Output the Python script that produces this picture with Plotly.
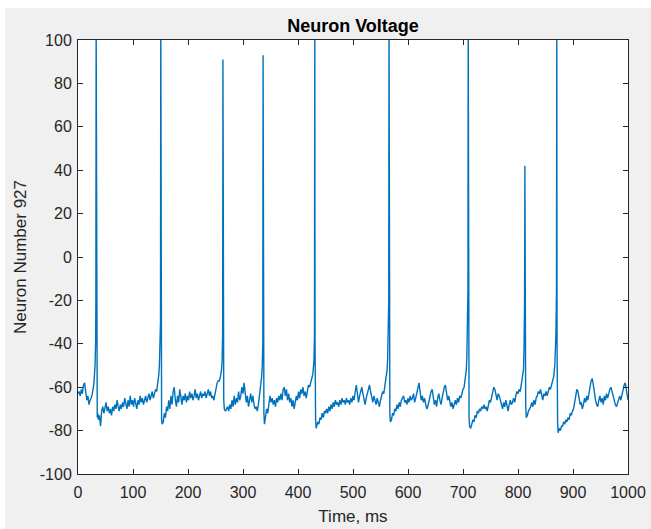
import plotly.graph_objects as go

# ---- data (time in ms, membrane voltage in mV) ----
t_seg0 = [0, 2, 4, 6, 8, 10, 12, 14, 16, 18, 20, 22, 24, 26, 27, 28, 29, 30, 31, 32, 32.5, 33, 33.5, 34, 35, 36]
v_seg0 = [-63, -62, -64, -61, -63, -59, -58, -61, -66, -64, -68, -66, -65, -63, -62, -60, -58, -55, -50, -40, -20, 110, -30, -70, -74, -72]

t_seg1 = [37, 39, 41, 43, 45, 47, 49, 51, 53, 55, 57, 59, 61, 63, 65, 67, 69, 71, 73, 75, 77, 79, 81, 83, 85, 87, 89,
          91, 93, 95, 97, 99, 101, 103, 105, 107, 109, 111, 113, 115, 117, 119, 121, 123, 125, 127, 129, 131, 133,
          135, 137, 139, 141, 143, 145, 146, 147, 148, 149, 150, 150.5, 151, 152]
v_seg1 = [-75, -73, -78, -71, -69, -72, -70, -67, -71, -69, -72, -70, -73, -69, -71, -68, -70, -66, -69, -71, -68, -70,
          -67, -69, -65, -68, -70, -66, -69, -64, -68, -66, -69, -65, -67, -70, -66, -68, -64, -67, -65, -68, -66, -64,
          -67, -65, -63, -66, -64, -62, -65, -63, -61, -62, -59, -57, -54, -50, -44, -30, 110, -40, -75]

t_seg2 = [153, 155, 157, 159, 161, 163, 165, 167, 169, 171, 173, 175, 177, 179, 181, 183, 185, 187, 189, 191, 193, 195,
          197, 199, 201, 203, 205, 207, 209, 211, 213, 215, 217, 219, 221, 223, 225, 227, 229, 231, 233, 235, 237, 239,
          241, 243, 245, 247, 249, 251, 253, 255, 257, 259, 261, 262, 263, 263.5, 264, 265]
v_seg2 = [-77, -76, -72, -74, -69, -71, -66, -70, -64, -68, -62, -60, -66, -69, -64, -67, -61, -65, -68, -64, -66, -63,
          -67, -64, -66, -62, -65, -63, -66, -64, -61, -65, -63, -66, -64, -62, -65, -63, -64, -62, -65, -63, -61, -64,
          -62, -65, -64, -66, -63, -60, -58, -57, -57, -55, -52, -48, -35, 91, -40, -66]

t_seg3 = [266, 268, 270, 272, 274, 276, 278, 280, 282, 284, 286, 288, 290, 292, 294, 296, 298, 300, 302, 304, 306, 308,
          310, 312, 314, 316, 318, 320, 322, 324, 326, 328, 330, 332, 334, 335, 336, 336.5, 337, 338]
v_seg3 = [-70, -71, -70, -69, -71, -68, -70, -66, -69, -64, -68, -65, -67, -62, -66, -64, -60, -63, -58, -62, -67, -64,
          -69, -66, -63, -67, -64, -68, -70, -69, -71, -68, -64, -60, -55, -50, -40, 93, -40, -72]

t_seg4 = [339, 341, 343, 345, 347, 349, 351, 353, 355, 357, 359, 361, 363, 365, 367, 369, 371, 373, 375, 377, 379, 381,
          383, 385, 387, 389, 391, 393, 395, 397, 399, 401, 403, 405, 407, 409, 411, 413, 415, 417, 419, 421, 423, 425,
          427, 429, 430, 430.5, 431, 432]
v_seg4 = [-77, -74, -70, -72, -67, -64, -67, -65, -68, -66, -69, -65, -67, -64, -66, -63, -66, -61, -60, -64, -61, -66,
          -63, -67, -65, -69, -66, -70, -67, -64, -66, -62, -65, -61, -63, -60, -64, -62, -65, -61, -59, -60, -57, -56,
          -54, -48, -35, 110, -40, -75]

t_seg5 = [433, 434, 436, 438, 440, 442, 444, 446, 448, 450, 452, 454, 456, 458, 460, 462, 464, 466, 468, 470, 472, 474,
          476, 478, 480, 482, 484, 486, 488, 490, 492, 494, 496, 498, 500, 502, 504, 506, 508, 510, 512, 514, 516, 518,
          520, 522, 524, 526, 528, 530, 532, 534, 536, 538, 540, 542, 544, 546, 548, 550, 552, 554, 556, 558, 560, 562,
          563, 564, 565, 565.5, 566, 567]
v_seg5 = [-79, -78, -76, -77, -74, -75, -72, -74, -71, -72, -70, -72, -69, -71, -68, -70, -67, -69, -66, -68, -67, -69,
          -66, -68, -65, -67, -66, -68, -65, -67, -66, -68, -65, -67, -64, -66, -62, -59, -63, -67, -64, -62, -60, -63,
          -66, -68, -65, -63, -60, -59, -62, -65, -67, -64, -66, -68, -65, -67, -69, -66, -64, -62, -63, -60, -56, -52,
          -47, -38, -20, 110, -40, -72]

t_seg6 = [568, 570, 572, 574, 576, 578, 580, 582, 584, 586, 588, 590, 592, 594, 596, 598, 600, 602, 604, 606, 608, 610,
          612, 614, 616, 618, 620, 622, 624, 626, 628, 630, 632, 634, 636, 638, 640, 642, 644, 646, 648, 650, 652, 654,
          656, 658, 660, 662, 664, 666, 668, 670, 672, 674, 676, 678, 680, 682, 684, 686, 688, 690, 692, 694, 696, 698,
          700, 702, 704, 706, 707, 708, 709, 709.5, 710, 711]
v_seg6 = [-76, -75, -72, -73, -70, -71, -68, -70, -67, -69, -66, -65, -64, -67, -66, -68, -65, -67, -64, -66, -65, -63,
          -67, -65, -62, -59, -58, -62, -66, -64, -67, -65, -68, -70, -69, -66, -64, -62, -61, -65, -68, -66, -69, -65,
          -63, -66, -68, -65, -62, -60, -59, -63, -66, -64, -67, -69, -67, -70, -68, -66, -68, -65, -67, -64, -65, -62,
          -61, -60, -57, -52, -46, -35, -15, 110, -40, -74]

t_seg7 = [712, 714, 716, 718, 720, 722, 724, 726, 728, 730, 732, 734, 736, 738, 740, 742, 744, 746, 748, 750, 752, 754,
          756, 758, 760, 762, 764, 766, 768, 770, 772, 774, 776, 778, 780, 782, 784, 786, 788, 790, 792, 794, 796, 798,
          800, 802, 804, 806, 808, 810, 811, 812, 812.5, 813, 814]
v_seg7 = [-78, -79, -77, -75, -76, -73, -74, -71, -72, -70, -71, -69, -70, -68, -70, -69, -71, -68, -66, -67, -64, -62,
          -60, -61, -64, -66, -63, -64, -66, -68, -70, -67, -69, -66, -69, -71, -68, -66, -68, -67, -65, -67, -64, -62,
          -63, -61, -62, -59, -57, -52, -42, -20, 42, -30, -68]

t_seg8 = [815, 817, 819, 821, 823, 825, 827, 829, 831, 833, 835, 837, 839, 841, 843, 845, 847, 849, 851, 853, 855, 857,
          859, 861, 863, 865, 867, 868, 869, 870, 870.5, 871, 872]
v_seg8 = [-74, -73, -71, -70, -69, -67, -69, -66, -68, -65, -64, -62, -63, -61, -64, -66, -63, -64, -62, -64, -62, -60,
          -61, -59, -58, -55, -50, -45, -35, -15, 110, -40, -76]

t_seg9 = [873, 875, 877, 879, 881, 883, 885, 887, 889, 891, 893, 895, 897, 899, 901, 903, 905, 907, 909, 911, 913, 915,
          917, 919, 921, 923, 925, 927, 929, 931, 933, 935, 937, 939, 941, 943, 945, 947, 949, 951, 953, 955, 957, 959,
          961, 963, 965, 967, 969, 971, 973, 975, 977, 979, 981, 983, 985, 987, 989, 991, 993, 995, 997, 999, 1000]
v_seg9 = [-81, -79, -80, -78, -78, -76, -77, -75, -76, -74, -75, -72, -73, -71, -70, -67, -64, -61, -62, -66, -68, -67,
          -70, -68, -65, -67, -64, -66, -62, -60, -57, -56, -59, -63, -66, -68, -69, -66, -64, -67, -65, -68, -64, -66,
          -63, -65, -62, -61, -60, -62, -65, -67, -68, -69, -67, -65, -64, -66, -63, -61, -59, -58, -61, -64, -66]

x_ticks = [0, 100, 200, 300, 400, 500, 600, 700, 800, 900, 1000]
y_ticks = [-100, -80, -60, -40, -20, 0, 20, 40, 60, 80, 100]

time_ms = (t_seg0 + t_seg1 + t_seg2 + t_seg3 + t_seg4 + t_seg5 + t_seg6 + t_seg7 + t_seg8 + t_seg9)
voltage = (v_seg0 + v_seg1 + v_seg2 + v_seg3 + v_seg4 + v_seg5 + v_seg6 + v_seg7 + v_seg8 + v_seg9)

FONT = "Liberation Sans, Arial, Helvetica, sans-serif"
AX_COLOR = "#262626"

fig = go.Figure()
fig.add_trace(go.Scatter(x=time_ms, y=voltage, mode="lines",
                         line=dict(color="#0072BD", width=1.4), showlegend=False,
                         hoverinfo="skip"))

axis_common = dict(showgrid=False, zeroline=False, showline=True, linecolor=AX_COLOR, linewidth=1,
                   mirror="ticks", ticks="inside", ticklen=5, tickcolor=AX_COLOR, tickwidth=1,
                   automargin=False,
                   tickfont=dict(family=FONT, size=16, color=AX_COLOR))

fig.update_xaxes(range=[0, 1000], tickvals=x_ticks, ticktext=[str(v) for v in x_ticks],
                 ticklabelstandoff=4,
                 title=dict(text="Time, ms", font=dict(family=FONT, size=17, color=AX_COLOR), standoff=9),
                 **axis_common)
fig.update_yaxes(range=[-100, 100], tickvals=y_ticks, ticktext=[str(v) for v in y_ticks],
                 ticklabelstandoff=2,
                 title=dict(text="Neuron Number 927", font=dict(family=FONT, size=17, color=AX_COLOR), standoff=8),
                 **axis_common)

# plot area: x 78..628 px, y 40..474 px
W, H = 651, 529
L, R, T, B = 78, 628, 40, 474
pw, ph = R - L, B - T

def px_x(p):
    return (p - L) / pw

def px_y(p):
    return (B - p) / ph

fig.update_layout(
    width=W, height=H, autosize=False,
    margin=dict(l=L, r=W - R, t=T, b=H - B, pad=0, autoexpand=False),
    paper_bgcolor="#f0f0f0", plot_bgcolor="white",
    title=dict(text="<b>Neuron Voltage</b>", x=(L + R) / 2 / W, xanchor="center",
               y=1 - 26 / H, yanchor="middle",
               font=dict(family=FONT, size=18, color="black")),
    shapes=[
        dict(type="rect", xref="paper", yref="paper", x0=px_x(634), x1=px_x(W + 2), y0=px_y(H + 2), y1=px_y(8),
             fillcolor="#f0f0f0", line=dict(width=0), layer="below"),
        dict(type="rect", xref="paper", yref="paper", x0=px_x(0), x1=px_x(W + 2), y0=px_y(8), y1=px_y(0),
             fillcolor="white", line=dict(width=0), layer="below"),
        dict(type="rect", xref="paper", yref="paper", x0=px_x(0), x1=px_x(5), y0=px_y(H), y1=px_y(0),
             fillcolor="white", line=dict(width=0), layer="below"),
    ],
)

fig.write_html("out.html", config={"responsive": False, "displayModeBar": False},
               post_script="document.documentElement.style.overflow='hidden';"
                           "document.documentElement.style.background='#f0f0f0';"
                           "document.body.style.background='#f0f0f0';"
                           "document.body.style.margin='0';document.body.style.overflow='hidden';")
